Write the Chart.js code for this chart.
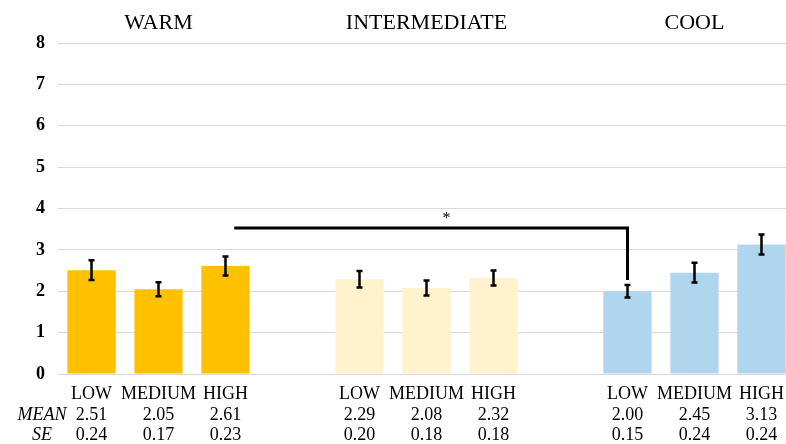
<!DOCTYPE html>
<html>
<head>
<meta charset="utf-8">
<script src="https://cdn.jsdelivr.net/npm/chart.js@4"></script>
<style>
  html, body { margin: 0; padding: 0; background: #fff; overflow: hidden; }
  #wrap { position: absolute; left: 0; top: 0; width: 795px; height: 444px; }
</style>
</head>
<body>
<div id="wrap"><canvas id="grafico"></canvas></div>
<script>
const groups = ["WARM", "INTERMEDIATE", "COOL"];
const levels = ["LOW", "MEDIUM", "HIGH"];
const warmMean = [2.51, 2.05, 2.61];
const interMean = [2.29, 2.08, 2.32];
const coolMean = [2.00, 2.45, 3.13];
const warmSE = [0.24, 0.17, 0.23];
const interSE = [0.20, 0.18, 0.18];
const coolSE = [0.15, 0.24, 0.24];
const yTicks = [0, 1, 2, 3, 4, 5, 6, 7, 8];
const rowNames = ["", "MEAN", "SE"];
// significance bracket: WARM HIGH vs COOL LOW
const bracket = { from: 2.13, to: 8, top: 3.53, bottom: 2.27, mark: "*" };

const groupColors = ["#FFC000", "#FFF2CC", "#AFD6EC"];
const serif = "'Liberation Serif', 'Times New Roman', serif";

const means = [warmMean, interMean, coolMean];
const ses = [warmSE, interSE, coolSE];
let labels = [], values = [], errors = [], barColors = [], groupLabels = [];
groups.forEach((g, gi) => {
    if (gi > 0) {
        labels.push(""); values.push(null); errors.push(null);
        barColors.push("rgba(0,0,0,0)"); groupLabels.push("");
    }
    levels.forEach((lv, li) => {
        labels.push([lv, means[gi][li].toFixed(2), ses[gi][li].toFixed(2)]);
        values.push(means[gi][li]);
        errors.push(ses[gi][li]);
        barColors.push(groupColors[gi]);
        groupLabels.push(li === 1 ? g : "");
    });
});

const xFont = { family: serif, size: 18, lineHeight: 1.14 };
const xPad = 10;

const extras = {
    id: "extras",
    afterDatasetsDraw(chart) {
        const ctx = chart.ctx;
        const x = chart.scales.x, y = chart.scales.y;
        ctx.save();
        // error bars
        ctx.strokeStyle = "#000";
        ctx.lineWidth = 2.5;
        errors.forEach((e, i) => {
            if (e === null) return;
            const cx = x.getPixelForValue(i);
            const y1 = y.getPixelForValue(values[i] + e);
            const y2 = y.getPixelForValue(values[i] - e);
            ctx.beginPath();
            ctx.moveTo(cx, y1); ctx.lineTo(cx, y2);
            ctx.moveTo(cx - 3, y1); ctx.lineTo(cx + 3, y1);
            ctx.moveTo(cx - 3, y2); ctx.lineTo(cx + 3, y2);
            ctx.stroke();
        });
        // bracket
        ctx.lineWidth = 3;
        const bx1 = x.getPixelForValue(bracket.from);
        const bx2 = x.getPixelForValue(bracket.to);
        const by = y.getPixelForValue(bracket.top);
        ctx.beginPath();
        ctx.moveTo(bx1, by);
        ctx.lineTo(bx2, by);
        ctx.lineTo(bx2, y.getPixelForValue(bracket.bottom));
        ctx.stroke();
        ctx.fillStyle = "#000";
        ctx.font = "16px " + serif;
        ctx.textAlign = "center";
        ctx.textBaseline = "middle";
        ctx.fillText(bracket.mark, x.getPixelForValue(5.3), y.getPixelForValue(3.76));
        // row names
        ctx.font = "italic 18px " + serif;
        const lh = xFont.size * xFont.lineHeight;
        rowNames.forEach((r, i) => {
            if (!r) return;
            ctx.fillText(r, 42, x.top + xPad + lh * (i + 0.5));
        });
        ctx.restore();
    }
};

new Chart(document.getElementById("grafico"), {
    type: "bar",
    data: {
        labels: labels,
        datasets: [{
            data: values,
            backgroundColor: barColors,
            borderWidth: 0,
            barPercentage: 0.72,
            categoryPercentage: 1
        }]
    },
    options: {
        responsive: true,
        maintainAspectRatio: false,
        animation: false,
        layout: { padding: { left: 0, right: 0, top: 0, bottom: 0 } },
        plugins: { legend: { display: false }, tooltip: { enabled: false } },
        scales: {
            x: {
                grid: { display: false, drawTicks: false },
                border: { display: false },
                ticks: { color: "#000", font: xFont, padding: xPad, autoSkip: false, maxRotation: 0 },
                afterFit: s => { s.height = 70; }
            },
            x2: {
                type: "category",
                position: "top",
                labels: groupLabels,
                offset: true,
                grid: { display: false, drawTicks: false },
                border: { display: false },
                ticks: { color: "#000", font: { family: serif, size: 22 }, padding: 7, autoSkip: false, maxRotation: 0 },
                afterFit: s => { s.height = 43; }
            },
            y: {
                min: yTicks[0],
                max: yTicks[yTicks.length - 1],
                afterBuildTicks: s => { s.ticks = yTicks.map(v => ({ value: v })); },
                grid: { color: "#d9d9d9", lineWidth: 1, drawTicks: false },
                border: { display: false },
                ticks: { color: "#000", font: { family: serif, size: 18, weight: "bold" }, padding: 13 },
                afterFit: s => { s.width = 58; }
            }
        }
    },
    plugins: [extras]
});
</script>
</body>
</html>
